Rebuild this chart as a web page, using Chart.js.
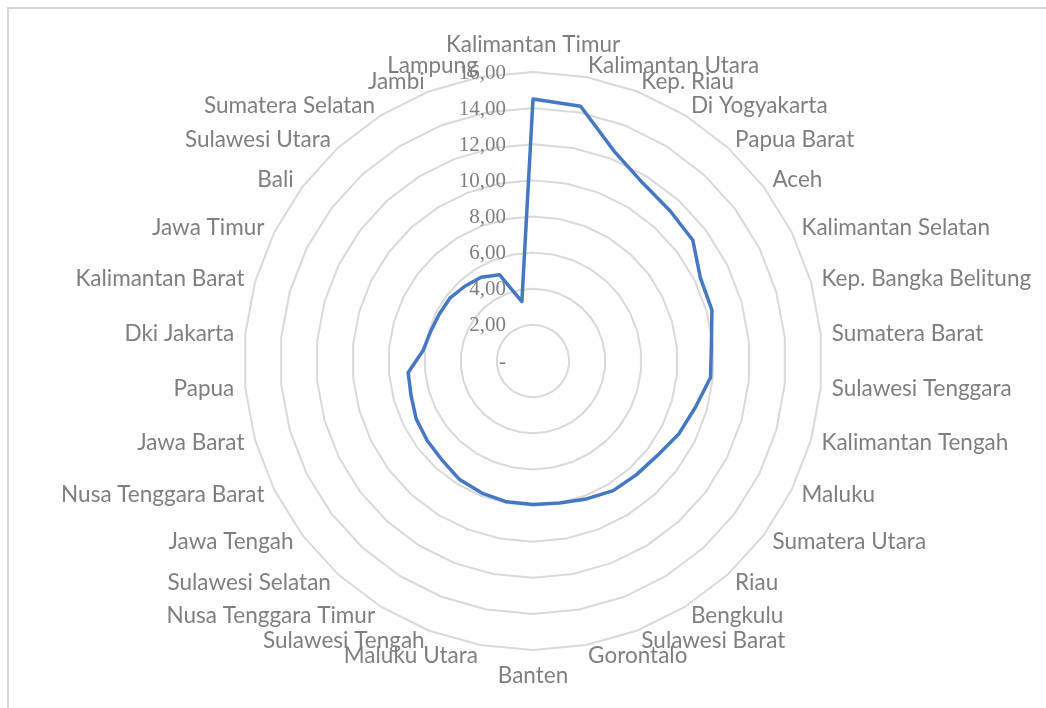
<!DOCTYPE html>
<html>
<head>
<meta charset="utf-8">
<title>Radar provinsi</title>
<script src="https://cdn.jsdelivr.net/npm/chart.js@4.4.1/dist/chart.umd.min.js"></script>
<style>
  body { margin: 0; background: #fff; }
  #wrap { position: relative; width: 1046px; height: 708px; overflow: hidden; }
  #frame { position: absolute; left: 7px; top: 7px; right: -10px; bottom: -10px;
           border-top: 2px solid #d9d9d9; border-left: 2px solid #d9d9d9; }
  canvas { position: absolute; left: 0; top: 0; }
</style>
</head>
<body>
<div id="wrap">
  <div id="frame"></div>
  <canvas id="myChart" width="1046" height="708"></canvas>
</div>
<script>
var provinces = ['Kalimantan Timur', 'Kalimantan Utara', 'Kep. Riau', 'Di Yogyakarta', 'Papua Barat',
  'Aceh', 'Kalimantan Selatan', 'Kep. Bangka Belitung', 'Sumatera Barat', 'Sulawesi Tenggara',
  'Kalimantan Tengah', 'Maluku', 'Sumatera Utara', 'Riau', 'Bengkulu', 'Sulawesi Barat',
  'Gorontalo', 'Banten', 'Maluku Utara', 'Sulawesi Tengah', 'Nusa Tenggara Timur',
  'Sulawesi Selatan', 'Jawa Tengah', 'Nusa Tenggara Barat', 'Jawa Barat', 'Papua',
  'Dki Jakarta', 'Kalimantan Barat', 'Jawa Timur', 'Bali', 'Sulawesi Utara',
  'Sumatera Selatan', 'Jambi', 'Lampung'];

var values = [14.50, 14.35, 12.45, 11.57, 11.26,
  11.09, 10.35, 10.30, 9.92, 9.87,
  9.35, 9.03, 8.65, 8.51, 8.44, 8.19,
  8.00, 7.94, 7.93, 7.84, 7.72,
  7.45, 7.33, 7.22, 7.02, 6.94,
  6.12, 5.90, 5.80, 5.77, 5.60,
  5.45, 5.12, 3.35];

var tickLabels = ['-', '2,00', '4,00', '6,00', '8,00', '10,00', '12,00', '14,00', '16,00'];

// excel style labels: ticks right aligned left of the axis, names around the rim
var excelLabels = {
  id: 'excelLabels',
  beforeDatasetsDraw: function(chart) {
    var s = chart.scales.r;
    var ctx = chart.ctx;
    var n = chart.data.labels.length;
    ctx.save();
    ctx.fillStyle = '#7f7f7f';

    ctx.font = '21px "Liberation Serif"';
    ctx.textAlign = 'right';
    ctx.textBaseline = 'middle';
    s.ticks.forEach(function(t, i) {
      var d = s.getDistanceFromCenterForValue(t.value);
      ctx.fillText(tickLabels[i], s.xCenter - 27, s.yCenter - d + 1);
    });

    ctx.font = '22.5px Lato';
    chart.data.labels.forEach(function(lab, i) {
      var p = s.getPointPosition(i, s.drawingArea + 11);
      var deg = i * 360 / n;
      var y = p.y;
      if (deg === 0) {
        ctx.textAlign = 'center';
        y -= 16;
      } else if (deg === 180) {
        ctx.textAlign = 'center';
        y += 15;
      } else if (deg < 180) {
        ctx.textAlign = 'left';
      } else {
        ctx.textAlign = 'right';
      }
      ctx.fillText(lab, p.x, y);
    });
    ctx.restore();
  }
};

var ctx = document.getElementById('myChart').getContext('2d');
var myChart = new Chart(ctx, {
  type: 'radar',
  data: {
    labels: provinces,
    datasets: [{
      data: values,
      borderColor: '#4677c3',
      backgroundColor: 'rgba(0,0,0,0)',
      borderWidth: 3.5,
      borderJoinStyle: 'round',
      fill: false,
      pointRadius: 0,
      pointHoverRadius: 0
    }]
  },
  options: {
    responsive: false,
    animation: false,
    layout: { padding: { left: 20, right: 0, top: 72, bottom: 58 } },
    plugins: { legend: { display: false }, tooltip: { enabled: false } },
    scales: {
      r: {
        min: 0,
        max: 16,
        ticks: { stepSize: 2, display: false },
        pointLabels: { display: false },
        angleLines: { display: false },
        grid: { color: '#d9d9d9', lineWidth: 2 }
      }
    }
  },
  plugins: [excelLabels]
});
</script>
</body>
</html>
